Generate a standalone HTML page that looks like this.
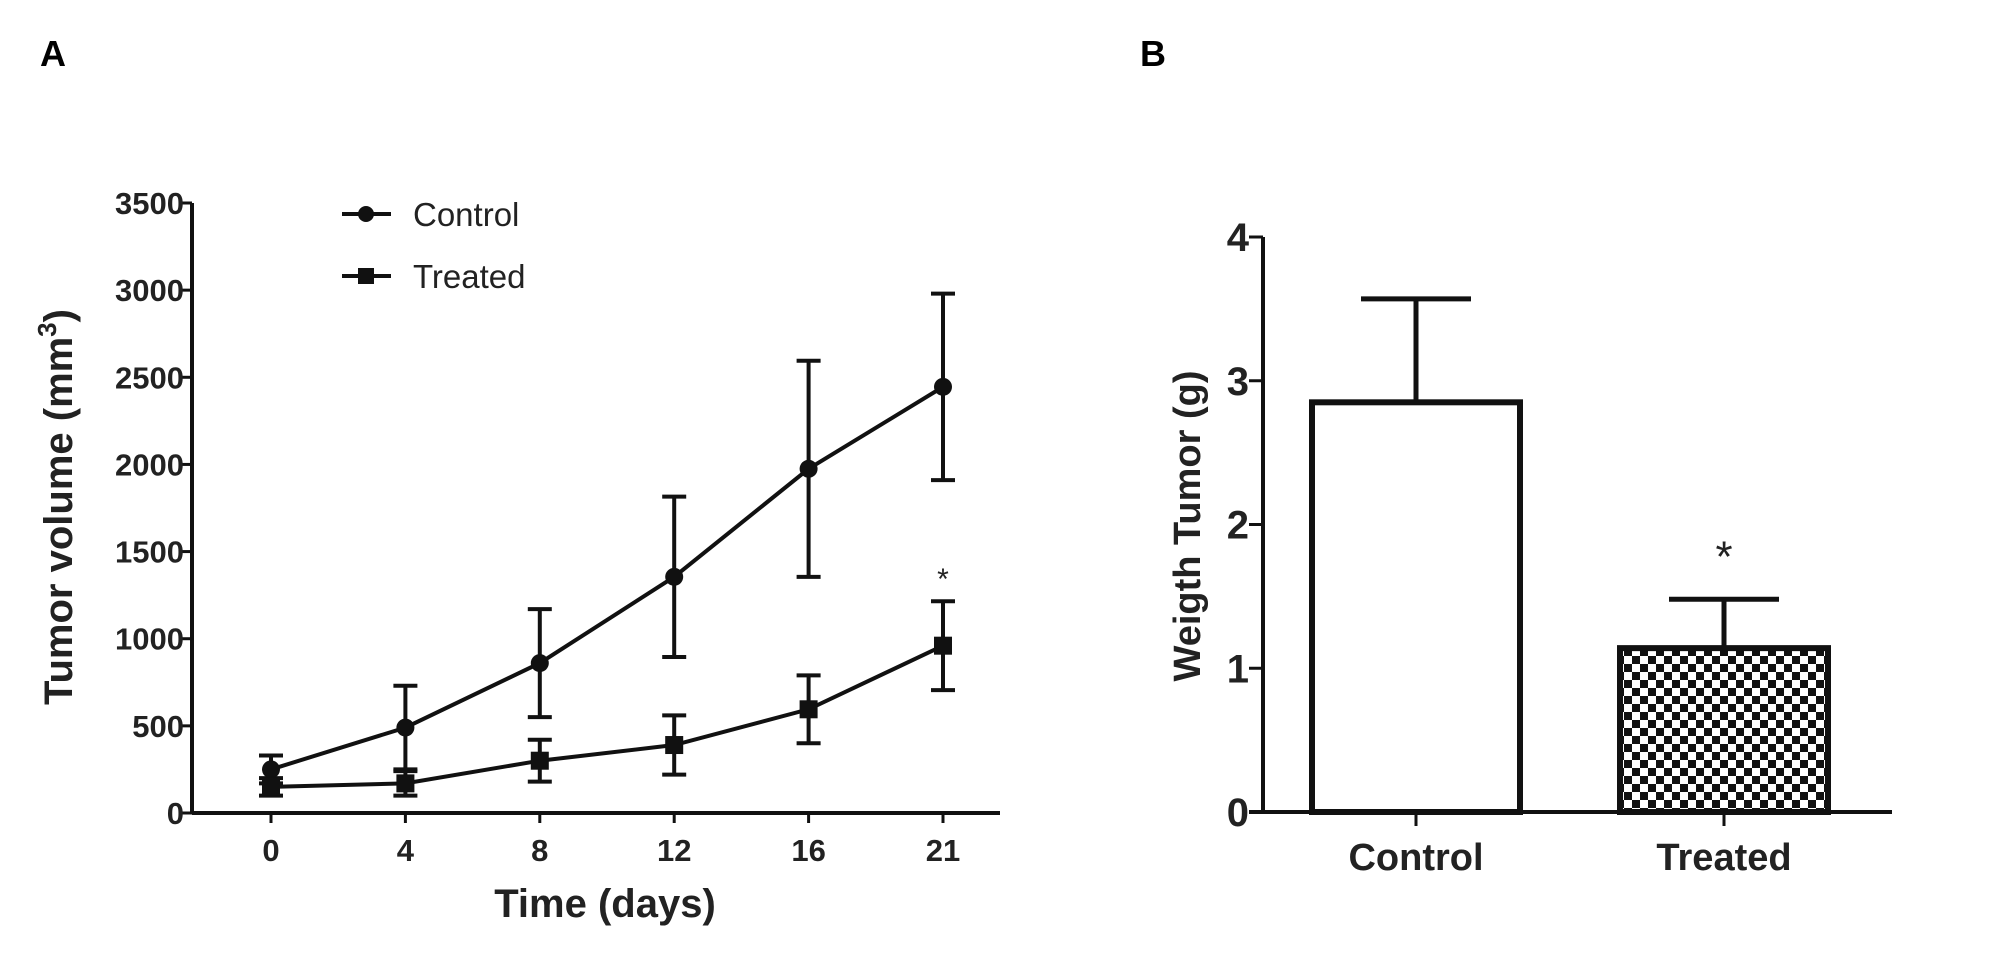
<!DOCTYPE html>
<html><head><meta charset="utf-8"><style>
html,body{margin:0;padding:0;background:#fff;}
svg{display:block;font-family:"Liberation Sans",Arial,sans-serif;}
</style></head><body>
<svg id="fig" width="2011" height="954" viewBox="0 0 2011 954">
<defs>
<pattern id="checker" width="16" height="16" patternUnits="userSpaceOnUse">
<rect width="16" height="16" fill="#fff"/>
<rect x="0" y="0" width="8" height="8" fill="#111"/>
<rect x="8" y="8" width="8" height="8" fill="#111"/>
</pattern>
</defs>
<text x="40" y="66" font-size="36" font-weight="bold">A</text>
<text x="1140" y="66" font-size="36" font-weight="bold">B</text>
<g id="chartA"></g>
<g id="chartB"></g>
</svg>
<script>
// Panel A data
const daysA = ["0","4","8","12","16","21"];
const controlMean = [250, 490, 860, 1355, 1975, 2445];
const controlErr = [80, 240, 310, 460, 620, 535];
const treatedMean = [150, 170, 300, 390, 595, 960];
const treatedErr = [50, 70, 120, 170, 195, 255];
const yTicksA = [0, 500, 1000, 1500, 2000, 2500, 3000, 3500];
// Panel B data
const groupsB = ["Control", "Treated"];
const weightMean = [2.85, 1.14];
const weightErr = [0.72, 0.34];
const yTicksB = [0, 1, 2, 3, 4];

const NS = "http://www.w3.org/2000/svg";
function mk(parent, tag, attrs, text) {
  const e = document.createElementNS(NS, tag);
  for (const k in attrs) e.setAttribute(k, attrs[k]);
  if (text !== undefined) e.textContent = text;
  parent.appendChild(e);
  return e;
}
const SW = 4;
// ---- Panel A ----
const gA = document.getElementById("chartA");
const ax0 = 192, ay0 = 813, ayTop = 203, axEnd = 1000;
const xA = i => 271 + i * 134.4;
const yA = v => ay0 - (v / 3500) * (ay0 - ayTop);
let el;
el = mk(gA, "line", {x1: ax0, y1: ayTop, x2: ax0, y2: ay0, stroke: "#111", "stroke-width": SW});


el = mk(gA, "line", {x1: ax0, y1: ay0, x2: axEnd, y2: ay0, stroke: "#111", "stroke-width": SW});


yTicksA.forEach(t => {
  mk(gA, "line", {x1: ax0 - 10, y1: yA(t), x2: ax0, y2: yA(t), stroke: "#111", "stroke-width": 3});
  el = mk(gA, "text", {x: ax0 - 8, y: yA(t) + 11, "font-size": 31, "font-weight": "bold", "text-anchor": "end", fill: "#222"}, t);
  
  
});
daysA.forEach((d, i) => {
  mk(gA, "line", {x1: xA(i), y1: ay0, x2: xA(i), y2: ay0 + 10, stroke: "#111", "stroke-width": 3});
  el = mk(gA, "text", {x: xA(i), y: 861, "font-size": 31, "font-weight": "bold", "text-anchor": "middle", fill: "#222"}, d);
  
  
});
el = mk(gA, "text", {x: 605, y: 917, "font-size": 40, "font-weight": "bold", "text-anchor": "middle", fill: "#222"}, "Time (days)");


el = mk(gA, "text", {x: 0, y: 0, "font-size": 40, "font-weight": "bold", "text-anchor": "middle", fill: "#222", transform: "translate(72,507) rotate(-90)"});


el.appendChild(document.createTextNode("Tumor volume (mm"));
const sup = mk(el, "tspan", {"font-size": 26, dy: -16}, "3");
mk(el, "tspan", {dy: 16}, ")");

function series(mean, err, marker, name) {
  const g = mk(gA, "g", {});
  
  
  const pts = mean.map((v, i) => xA(i) + "," + yA(v)).join(" ");
  el = mk(g, "polyline", {points: pts, fill: "none", stroke: "#111", "stroke-width": SW});
  
  
  mean.forEach((v, i) => {
    const x = xA(i), top = yA(v + err[i]), bot = yA(v - err[i]);
    el = mk(g, "path", {d: `M${x},${top}V${bot}M${x-12},${top}H${x+12}M${x-12},${bot}H${x+12}`, stroke: "#111", "stroke-width": SW, fill: "none"});
    
    
    if (marker === "circle") el = mk(g, "circle", {cx: x, cy: yA(v), r: 9, fill: "#111"});
    else el = mk(g, "rect", {x: x - 9, y: yA(v) - 9, width: 18, height: 18, fill: "#111"});
    
    
  });
}
series(controlMean, controlErr, "circle", "control");
series(treatedMean, treatedErr, "square", "treated");
el = mk(gA, "text", {x: xA(5), y: yA(treatedMean[5] + treatedErr[5]) - 12, "font-size": 30, "text-anchor": "middle", fill: "#222"}, "*");


// legend
[["Control","circle",214],["Treated","square",276]].forEach(([lab, m, y]) => {
  const g = mk(gA, "g", {});
  
  
  mk(g, "line", {x1: 342, y1: y, x2: 391, y2: y, stroke: "#111", "stroke-width": SW});
  if (m === "circle") mk(g, "circle", {cx: 366, cy: y, r: 8, fill: "#111"});
  else mk(g, "rect", {x: 358, y: y - 8, width: 16, height: 16, fill: "#111"});
  mk(g, "text", {x: 413, y: y + 12, "font-size": 33, fill: "#222"}, lab);
});
// ---- Panel B ----
const gB = document.getElementById("chartB");
const bx0 = 1263, by0 = 812, byTop = 237, bxEnd = 1892;
const yB = v => by0 - (v / 4) * (by0 - byTop);
const xB = i => 1416 + i * 308;
const bw = 208;
el = mk(gB, "line", {x1: bx0, y1: byTop, x2: bx0, y2: by0, stroke: "#111", "stroke-width": SW});


el = mk(gB, "line", {x1: bx0 - 14, y1: by0, x2: bxEnd, y2: by0, stroke: "#111", "stroke-width": SW});


yTicksB.forEach(t => {
  mk(gB, "line", {x1: bx0 - 14, y1: yB(t), x2: bx0, y2: yB(t), stroke: "#111", "stroke-width": 3});
  el = mk(gB, "text", {x: bx0 - 14, y: yB(t) + 14, "font-size": 40, "font-weight": "bold", "text-anchor": "end", fill: "#222"}, t);
  
  
});
groupsB.forEach((gname, i) => {
  const x = xB(i), v = weightMean[i], e = weightErr[i];
  el = mk(gB, "line", {x1: x, y1: yB(v + e), x2: x, y2: yB(v), stroke: "#111", "stroke-width": 5});
  
  
  mk(gB, "line", {x1: x - 55, y1: yB(v + e), x2: x + 55, y2: yB(v + e), stroke: "#111", "stroke-width": 5});
  el = mk(gB, "rect", {x: x - bw / 2, y: yB(v), width: bw, height: by0 - yB(v), fill: i === 0 ? "#fff" : "url(#checker)", stroke: "#111", "stroke-width": 6});
  
  
  mk(gB, "line", {x1: x, y1: by0, x2: x, y2: by0 + 14, stroke: "#111", "stroke-width": 3});
  el = mk(gB, "text", {x: x, y: 870, "font-size": 38, "font-weight": "bold", "text-anchor": "middle", fill: "#222"}, gname);
  
  
});
el = mk(gB, "text", {x: xB(1), y: yB(weightMean[1] + weightErr[1]) - 28, "font-size": 44, "text-anchor": "middle", fill: "#222"}, "*");


el = mk(gB, "text", {x: 0, y: 0, "font-size": 38, "font-weight": "bold", "text-anchor": "middle", fill: "#222", "xml:space": "preserve", transform: "translate(1200,526) rotate(-90)"}, "Weigth  Tumor  (g)");


</script>
</body></html>
